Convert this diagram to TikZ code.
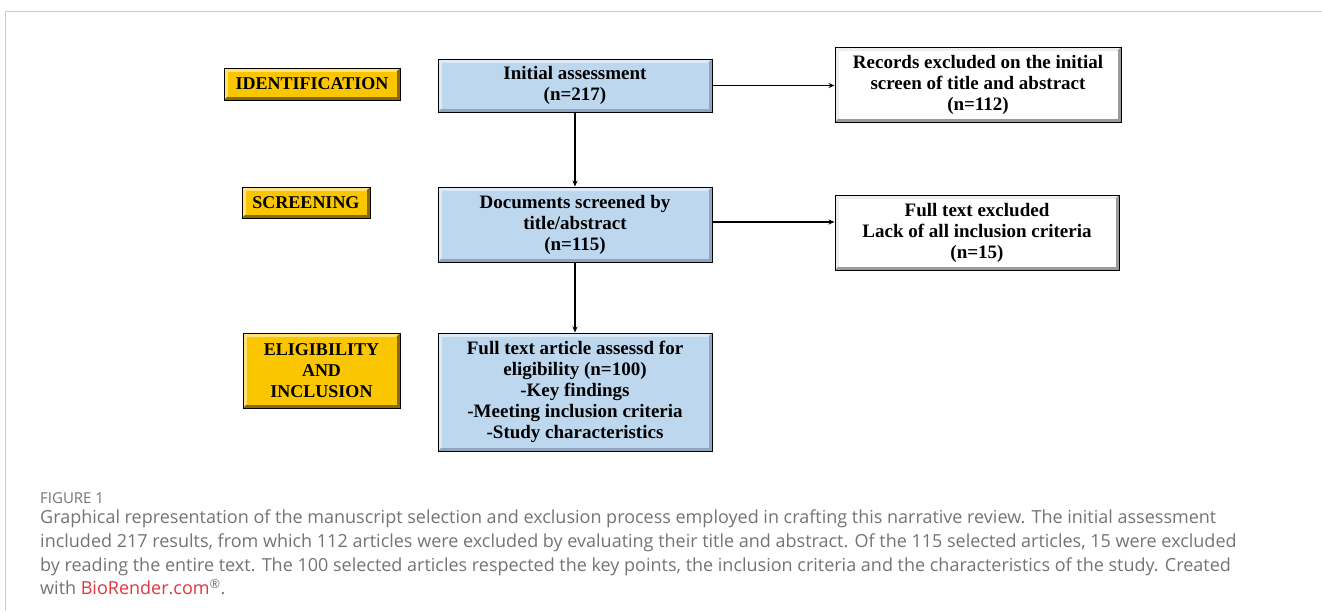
\documentclass[tikz,border=0pt]{standalone}
\usepackage{fontspec}
\setmainfont{Liberation Serif}
\setsansfont{Open Sans}
\usetikzlibrary{arrows.meta,calc}
\definecolor{yface}{HTML}{F9C600}
\definecolor{ylight}{HTML}{FFE27A}
\definecolor{ydark}{HTML}{8C6A00}
\definecolor{bface}{HTML}{BDD7EE}
\definecolor{blight}{HTML}{DCEAF8}
\definecolor{bdark}{HTML}{8FA6BE}
\definecolor{wface}{HTML}{FFFFFF}
\definecolor{wlight}{HTML}{EEEEEE}
\definecolor{wdark}{HTML}{9A9A9A}
\definecolor{captxt}{HTML}{747474}
\definecolor{biored}{HTML}{E2363C}
\definecolor{framegray}{HTML}{CCCCCC}
\tikzset{
  bevelbox/.style n args={3}{
    draw=black, line width=1pt, inner sep=0pt, align=center,
    path picture={
      \path (path picture bounding box.north west) coordinate (bnw)
            (path picture bounding box.south east) coordinate (bse);
      \fill[#2] (bnw) rectangle (bse);
      \fill[#3] (bnw |- bse) -- (bse) -- (bse |- bnw) -- ++(-3.5pt,-3.5pt)
        -- ($(bse)+(-3.5pt,3.5pt)$) -- ($(bnw |- bse)+(3.5pt,3.5pt)$) -- cycle;
      \fill[#1] ($(bnw)+(3.5pt,-3.5pt)$) rectangle ($(bse)+(-3.5pt,3.5pt)$);
    }},
  stagebox/.style={bevelbox={yface}{ylight}{ydark},
    font=\fontsize{18}{21}\selectfont\bfseries},
  bluebox/.style={bevelbox={bface}{blight}{bdark},
    font=\fontsize{19}{21}\selectfont\bfseries},
  whitebox/.style={bevelbox={wface}{wlight}{wdark},
    font=\fontsize{19}{21}\selectfont\bfseries},
  arr/.style={draw=black, line width=1.1pt, -{Stealth[length=6pt,width=5pt]}},
  captext/.style={text=captxt, font=\sffamily\fontsize{18}{23.6}\selectfont,
    inner sep=0pt, align=left}
}
\begin{document}
\begin{tikzpicture}[x=1pt,y=1pt]
\useasboundingbox (0,0) rectangle (1322,-611);
\fill[white] (0,0) rectangle (1322,-611);
\draw[framegray, line width=1.3pt] (1322,-11.5) -- (5.5,-11.5) -- (5.5,-611);

% stage labels
\node[stagebox, minimum width=176, minimum height=32] (ident) at (312,-84) {IDENTIFICATION};
\node[stagebox, minimum width=128, minimum height=31] (screen) at (306,-202.5) {SCREENING};
\node[stagebox, minimum width=157, minimum height=75] (elig) at (321.5,-370.5) {ELIGIBILITY\\AND\\INCLUSION};

% main column
\node[bluebox, minimum width=274, minimum height=53] (init) at (575,-85.5) {Initial assessment\\(n=217)};
\node[bluebox, minimum width=274, minimum height=75] (docs) at (575,-224.5) {Documents screened by\\title/abstract\\(n=115)};
\node[bluebox, minimum width=274, minimum height=118] (full) at (575,-392) {Full text article assessd for\\eligibility (n=100)\\-Key findings\\-Meeting inclusion criteria\\-Study characteristics};

% exclusions
\node[whitebox, minimum width=286, minimum height=75] (rec) at (978,-84.5) {Records excluded on the initial\\screen of title and abstract\\(n=112)};
\node[whitebox, minimum width=284, minimum height=75] (fte) at (977,-232.5) {Full text excluded\\Lack of all inclusion criteria\\(n=15)};

% connectors
\draw[arr] (init) -- (docs);
\draw[arr] (docs) -- (full);
\draw[arr] (init.east) -- (init.east -| rec.west);
\draw[arr] ([yshift=2.5pt]docs.east) -- ([yshift=2.5pt]docs.east -| fte.west);

% caption
\node[captext, anchor=base west, font=\sffamily\fontsize{15}{16}\selectfont] (figlabel) at (40,-503) {FIGURE 1};
\node[captext, anchor=north west] (caption) at (40,-510) {Graphical representation of the manuscript selection and exclusion process employed in crafting this narrative review. The initial assessment\\
included 217 results, from which 112 articles were excluded by evaluating their title and abstract. Of the 115 selected articles, 15 were excluded\\
by reading the entire text. The 100 selected articles respected the key points, the inclusion criteria and the characteristics of the study. Created\\
with \textcolor{biored}{BioRender.com}\textsuperscript{\textregistered}.};
\end{tikzpicture}
\end{document}
